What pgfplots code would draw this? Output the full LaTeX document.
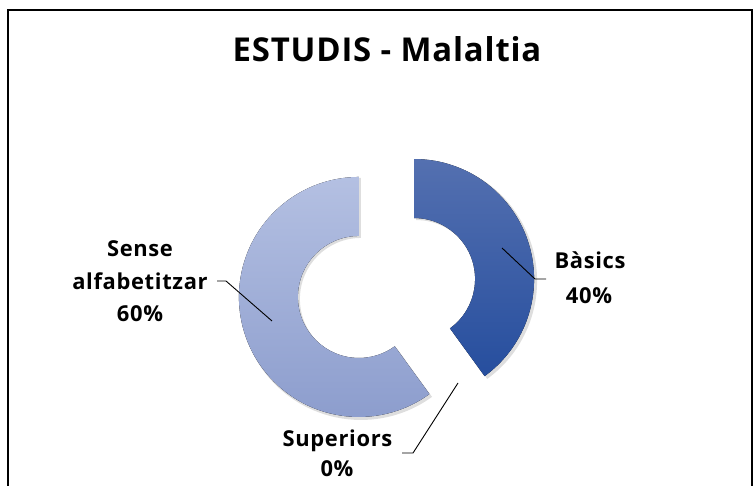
\documentclass[border=0pt]{standalone}
\usepackage{pgfplots}
\pgfplotsset{compat=1.18}
\usepackage{pgfplotstable}
\usepackage{fontspec}
\setmainfont{Open Sans}
\newfontfamily\titlefont[LetterSpace=2.5]{Open Sans}
\newfontfamily\labelfont[LetterSpace=3]{Open Sans}

\definecolor{darkTop}{RGB}{84,112,176}
\definecolor{darkBot}{RGB}{38,78,158}
\definecolor{lightTop}{RGB}{180,192,226}
\definecolor{lightBot}{RGB}{138,155,204}

% percentages per category (clockwise from 12 o'clock)
\pgfplotstableread[col sep=comma]{
label,value
Basics,40
Superiors,0
Sense,60
}\estudis

\begin{document}
\begin{tikzpicture}
\pgfplotstablegetelem{0}{value}\of\estudis \let\vBas\pgfplotsretval
\pgfplotstablegetelem{1}{value}\of\estudis \let\vSup\pgfplotsretval
\pgfplotstablegetelem{2}{value}\of\estudis \let\vSen\pgfplotsretval
\pgfmathsetmacro\aA{90-3.6*\vBas}          % end of Basics
\pgfmathsetmacro\aB{\aA-3.6*\vSup}         % end of Superiors
\pgfmathsetmacro\aC{\aB-3.6*\vSen}         % end of Sense
\pgfmathsetmacro\mA{90-1.8*\vBas}
\pgfmathsetmacro\mC{\aB-1.8*\vSen}
\begin{axis}[
    x=1bp, y=1bp,
    xmin=0, xmax=755, ymin=0, ymax=486,
    hide axis, clip=false,
  ]
  \path (axis cs:0,0) rectangle (axis cs:755,486);
  % frame (bottom edge is cut off)
  \draw[line width=1.8bp] (axis cs:8,0) -- (axis cs:8,476) -- (axis cs:752,476) -- (axis cs:752,0);

  % Basics
  \fill[black, opacity=0.13, shift={(axis cs:388.5,196)}, shift={(\mA:29bp)}]
    (90:121bp) arc[start angle=90, end angle=\aA, radius=121bp]
    -- (\aA:61bp) arc[start angle=\aA, end angle=90, radius=61bp] -- cycle;
  \fill[top color=darkTop, bottom color=darkBot, shift={(axis cs:386.5,198)}, shift={(\mA:29bp)}]
    (90:120bp) arc[start angle=90, end angle=\aA, radius=120bp]
    -- (\aA:61bp) arc[start angle=\aA, end angle=90, radius=61bp] -- cycle;
  % Sense alfabetitzar
  \fill[black, opacity=0.13, shift={(axis cs:388.5,196)}, shift={(\mC:29bp)}]
    (\aB:121bp) arc[start angle=\aB, end angle=\aC, radius=121bp]
    -- (\aC:61bp) arc[start angle=\aC, end angle=\aB, radius=61bp] -- cycle;
  \fill[top color=lightTop, bottom color=lightBot, shift={(axis cs:386.5,198)}, shift={(\mC:29bp)}]
    (\aB:120bp) arc[start angle=\aB, end angle=\aC, radius=120bp]
    -- (\aC:61bp) arc[start angle=\aC, end angle=\aB, radius=61bp] -- cycle;

  % leader lines
  \draw[line width=0.9bp] (axis cs:502,238) -- (axis cs:535,207) -- (axis cs:546,207);
  \draw[line width=0.9bp] (axis cs:217,205) -- (axis cs:226,205) -- (axis cs:272,165);
  \draw[line width=0.9bp] (axis cs:402,33) -- (axis cs:413,33) -- (axis cs:458,103);

  % title
  \node[anchor=base, font=\titlefont\fontsize{33}{36}\selectfont\bfseries] at (axis cs:387,424) {ESTUDIS - Malaltia};
  % labels
  \begin{scope}[every node/.style={anchor=base, font=\labelfont\fontsize{22}{25}\selectfont\bfseries}]
    \node at (axis cs:590,217) {Bàsics};
    \node at (axis cs:589,182) {40\%};
    \node at (axis cs:140,229) {Sense};
    \node at (axis cs:140,196) {alfabetitzar};
    \node at (axis cs:140,164) {60\%};
    \node at (axis cs:337.5,39) {Superiors};
    \node at (axis cs:337,9) {0\%};
  \end{scope}
\end{axis}
\end{tikzpicture}
\end{document}
